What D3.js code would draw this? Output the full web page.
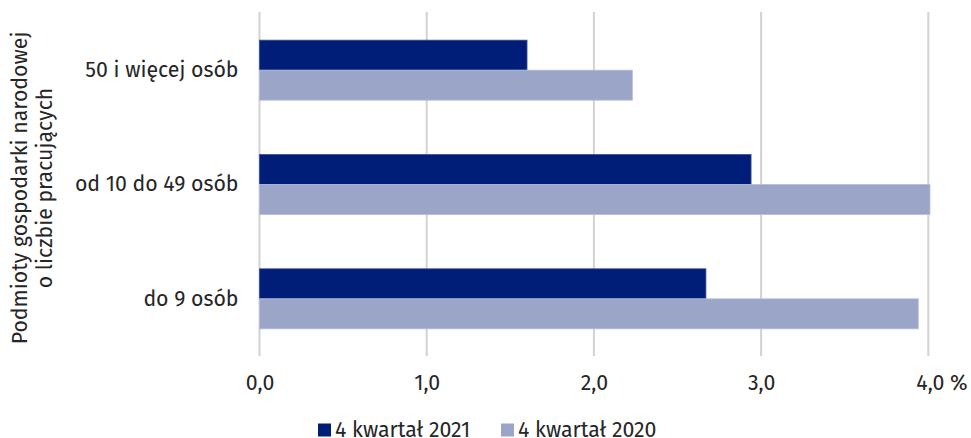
<!DOCTYPE html>
<html><head><meta charset="utf-8">
<script src="https://cdn.jsdelivr.net/npm/d3@7"></script>
<style>body{margin:0;background:#fff}svg{display:block}text{font-family:"Fira Sans","Open Sans","Noto Sans",sans-serif;fill:#262626}</style>
</head><body>
<svg id="c" width="971" height="438"></svg>
<script>
const categories = ["50 i więcej osób", "od 10 do 49 osób", "do 9 osób"];
const seriesNames = ["4 kwartał 2021", "4 kwartał 2020"];
const values2021 = [1.60, 2.94, 2.67];
const values2020 = [2.23, 4.01, 3.94];
const ticks = [0, 1, 2, 3, 4];
const tickLabels = ["0,0", "1,0", "2,0", "3,0", "4,0 %"];
const colors = ["#001E78", "#9AA5C8"];
const yTitle = ["Podmioty gospodarki narodowej", "o liczbie pracujących"];

const FS = 21.3;
const FF = '"Fira Sans","Open Sans","Noto Sans",sans-serif';
const svg = d3.select("#c");
const x = d3.scaleLinear().domain([0, 4]).range([259.5, 928.3]);
const y = d3.scaleBand().domain(categories).range([13, 356]).paddingInner(0.475).paddingOuter(0.2375);
const inner = d3.scaleBand().domain(seriesNames).range([0, y.bandwidth()]);

// gridlines
svg.append("g").selectAll("line").data(ticks).join("line")
  .attr("x1", d => x(d)).attr("x2", d => x(d))
  .attr("y1", 12).attr("y2", 356)
  .attr("stroke", "#d2d2d2").attr("stroke-width", 2);

// bars
const data = categories.map((c, i) => ({c, v: [values2021[i], values2020[i]]}));
const g = svg.append("g").selectAll("g").data(data).join("g")
  .attr("transform", d => `translate(0,${y(d.c)})`);
g.selectAll("rect").data(d => d.v.map((v, j) => ({v, s: seriesNames[j], j}))).join("rect")
  .attr("x", x(0)).attr("y", d => inner(d.s))
  .attr("width", d => x(d.v) - x(0)).attr("height", inner.bandwidth())
  .attr("fill", d => colors[d.j])
  .attr("stroke", d => d.j === 0 ? "#3a4f95" : "#b6bedb").attr("stroke-width", 0.8);

// x axis labels
const xAxis = d3.axisBottom(x).tickValues(ticks).tickSize(0).tickFormat((d, i) => tickLabels[i]);
const xa = svg.append("g").attr("transform", "translate(0,372)").call(xAxis);
xa.select(".domain").remove();
xa.selectAll("text").attr("font-size", FS).attr("fill", "#262626")
  .attr("dx", (d, i) => i === ticks.length - 1 ? "0.62em" : 0)
  .style("font-family", FF);

// y axis labels
const yAxis = d3.axisLeft(y).tickSize(0).tickPadding(21);
const ya = svg.append("g").attr("transform", `translate(${x(0)},0)`).call(yAxis);
ya.select(".domain").remove();
ya.selectAll("text").attr("font-size", FS).attr("fill", "#262626")
  .style("font-family", FF);

// y title
const yt = svg.append("text").attr("transform", "translate(27,188) rotate(-90)")
  .attr("text-anchor", "middle").attr("font-size", FS);
yt.selectAll("tspan").data(yTitle).join("tspan")
  .attr("x", 0).attr("dy", (d, i) => i === 0 ? 0 : 25).text(d => d);

// legend
const legX = [318, 501];
const lg = svg.append("g").selectAll("g").data(seriesNames).join("g")
  .attr("transform", (d, i) => `translate(${legX[i]},430)`);
lg.append("rect").attr("x", 0).attr("y", -6.5).attr("width", 13).attr("height", 13)
  .attr("fill", (d, i) => colors[i]);
lg.append("text").attr("x", 17).attr("y", 0).attr("dy", "0.35em")
  .attr("font-size", FS).text(d => d);
</script>
</body></html>
